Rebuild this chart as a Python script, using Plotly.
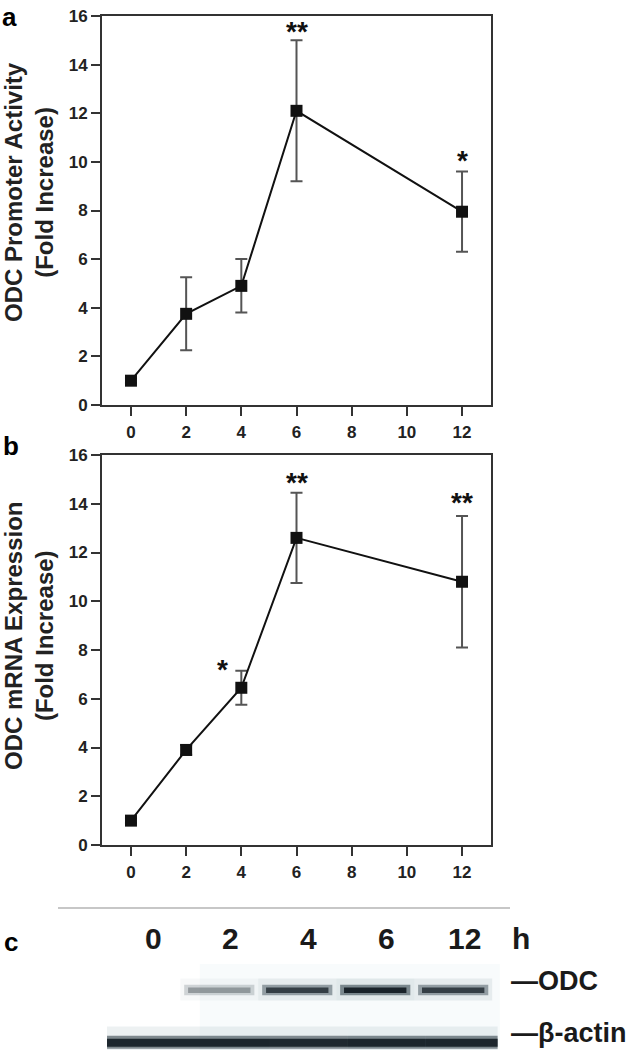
import plotly.graph_objects as go

# ---------------- data ----------------
time_h = [0, 2, 4, 6, 12]

promoter_mean = [1.0, 3.75, 4.9, 12.1, 7.95]
promoter_err = [0.1, 1.5, 1.1, 2.9, 1.65]
promoter_sig = ["", "", "", "**", "*"]
promoter_sig_y = [0, 0, 0, 15.6, 10.3]

mrna_mean = [1.0, 3.9, 6.45, 12.6, 10.8]
mrna_err = [0.1, 0.2, 0.7, 1.85, 2.7]
mrna_sig = ["", "", "*", "**", "**"]
mrna_sig_x = [0, 2, 3.3, 6, 12]
mrna_sig_y = [0, 0, 7.45, 15.1, 14.3]

x_ticks = [0, 2, 4, 6, 8, 10, 12]
y_ticks = [0, 2, 4, 6, 8, 10, 12, 14, 16]

blot_lanes = ["0", "2", "4", "6", "12"]
odc_intensity = [0.0, 0.35, 0.8, 1.0, 0.8]
actin_intensity = [0.9, 0.9, 0.88, 0.9, 0.9]

# ---------------- style ----------------
FONT = "Liberation Sans"
W, H = 638, 1050
PX_L, PX_R = 102, 491


def py(p):
    return 1 - p / H


def pxx(p):
    return p / W


fig = go.Figure()

common_line = dict(color="#111111", width=2)
common_marker = dict(symbol="square", size=12, color="#111111")
err_style = dict(type="data", thickness=2, width=6, color="#555555")

fig.add_trace(go.Scatter(
    x=time_h, y=promoter_mean, mode="lines+markers",
    line=common_line, marker=common_marker,
    error_y=dict(array=promoter_err, **err_style),
    xaxis="x", yaxis="y", showlegend=False))

fig.add_trace(go.Scatter(
    x=time_h, y=mrna_mean, mode="lines+markers",
    line=common_line, marker=common_marker,
    error_y=dict(array=mrna_err, **err_style),
    xaxis="x2", yaxis="y2", showlegend=False))

axis_common = dict(
    showline=True, linecolor="#333333", linewidth=2, mirror=True,
    ticks="outside", ticklen=9, tickwidth=2, tickcolor="#333333",
    showgrid=False, zeroline=False, automargin=False,
    tickfont=dict(family=FONT, size=17, color="#222222", weight="bold"),
)

xr = [-1.05, 13.05]
yr = [0, 16]

fig.update_layout(
    width=W, height=H, autosize=False,
    margin=dict(l=0, r=0, t=0, b=0),
    paper_bgcolor="white", plot_bgcolor="white",
    xaxis=dict(domain=[pxx(PX_L), pxx(PX_R)], range=xr, tickvals=x_ticks,
               anchor="y", ticklabelstandoff=2, **axis_common),
    yaxis=dict(domain=[py(405), py(16)], range=yr, tickvals=y_ticks,
               anchor="x", **axis_common),
    xaxis2=dict(domain=[pxx(PX_L), pxx(PX_R)], range=xr, tickvals=x_ticks,
                anchor="y2", ticklabelstandoff=2, **axis_common),
    yaxis2=dict(domain=[py(845), py(455)], range=yr, tickvals=y_ticks,
                anchor="x2", **axis_common),
    # western blot axes: lane index horizontally, band row vertically
    xaxis3=dict(domain=[pxx(100), pxx(560)], range=[-0.68, 5.22],
                visible=False, anchor="y3"),
    yaxis3=dict(domain=[0, py(900)], range=[-0.154, 2.73],
                visible=False, anchor="x3"),
)

annotations = []
star_font = dict(family=FONT, size=28, color="#111111", weight="bold")
for xv, s, yv in zip(time_h, promoter_sig, promoter_sig_y):
    if s:
        annotations.append(dict(x=xv, y=yv, xref="x", yref="y", text=s,
                                xanchor="center", yanchor="middle",
                                showarrow=False, font=star_font, yshift=-6))
for xv, s, yv in zip(mrna_sig_x, mrna_sig, mrna_sig_y):
    if s:
        annotations.append(dict(x=xv, y=yv, xref="x2", yref="y2", text=s,
                                xanchor="center", yanchor="middle",
                                showarrow=False, font=star_font, yshift=-6))

title_font = dict(family=FONT, size=24, color="#222222", weight="bold")
annotations.append(dict(x=pxx(29), y=py(192), xref="paper", yref="paper",
                        text="ODC Promoter Activity<br>(Fold Increase)",
                        xanchor="center", yanchor="middle",
                        textangle=-90, showarrow=False, font=title_font))
annotations.append(dict(x=pxx(29), y=py(636), xref="paper", yref="paper",
                        text="ODC mRNA Expression<br>(Fold Increase)",
                        xanchor="center", yanchor="middle",
                        textangle=-90, showarrow=False, font=title_font))

panel_font = dict(family=FONT, size=26, color="#000000", weight="bold")
annotations.append(dict(x=pxx(10), y=1.0, xref="paper", yref="paper",
                        xanchor="center", yanchor="top",
                        text="a", showarrow=False, font=panel_font))
for lbl, yp, xp in [("b", 446, 11), ("c", 942, 11)]:
    annotations.append(dict(x=pxx(xp), y=py(yp), xref="paper", yref="paper",
                            xanchor="center", yanchor="middle",
                            text=lbl, showarrow=False, font=panel_font))

lane_font = dict(family=FONT, size=30, color="#1a1a1a", weight="bold")
for i, lbl in enumerate(blot_lanes):
    annotations.append(dict(x=i, y=py(938), xref="x3", yref="paper",
                            xanchor="center", yanchor="middle",
                            text=lbl, showarrow=False, font=lane_font))
annotations.append(dict(x=len(blot_lanes) - 0.28, y=py(938), xref="x3",
                        yref="paper", text="h", xanchor="center",
                        yanchor="middle", showarrow=False, font=lane_font))

band_lbl_font = dict(family=FONT, size=27, color="#1a1a1a", weight="bold")
annotations.append(dict(x=pxx(509), y=1, xref="paper", yref="y3",
                        text="—ODC", xanchor="left", yanchor="middle",
                        showarrow=False, font=band_lbl_font, yshift=9))
annotations.append(dict(x=pxx(509), y=0, xref="paper", yref="y3",
                        text="—β-actin", xanchor="left", yanchor="middle",
                        showarrow=False, font=band_lbl_font, yshift=9))

shapes = []
# separator line above the blot
shapes.append(dict(type="line", xref="paper", yref="paper",
                   x0=pxx(58), x1=pxx(510), y0=py(908), y1=py(908),
                   line=dict(color="#b5b5b5", width=1.5)))
# faint membrane tint
shapes.append(dict(type="rect", xref="x3", yref="y3",
                   x0=0.6, x1=4.45, y0=-0.2, y1=1.5,
                   fillcolor="rgba(205,228,235,0.14)", line=dict(width=0),
                   layer="below"))

BAND_OFF = -0.15
for i, v in enumerate(odc_intensity):
    if v <= 0:
        continue
    c = i + BAND_OFF
    shapes.append(dict(type="rect", xref="x3", yref="y3",
                       x0=c - 0.5, x1=c + 0.5, y0=0.8, y1=1.22,
                       fillcolor=f"rgba(60,95,110,{0.12 * v:.3f})",
                       line=dict(width=0)))
    shapes.append(dict(type="rect", xref="x3", yref="y3",
                       x0=c - 0.45, x1=c + 0.45, y0=0.9, y1=1.1,
                       fillcolor=f"rgba(20,40,50,{0.5 * v:.3f})",
                       line=dict(width=0)))
    shapes.append(dict(type="rect", xref="x3", yref="y3",
                       x0=c - 0.4, x1=c + 0.4, y0=0.94, y1=1.05,
                       fillcolor=f"rgba(8,18,25,{0.85 * v:.3f})",
                       line=dict(width=0)))

n = len(actin_intensity)
for i, v in enumerate(actin_intensity):
    x0 = i - 0.5 if i > 0 else i - 0.59
    x1 = i + 0.5 if i < n - 1 else i + 0.42
    shapes.append(dict(type="rect", xref="x3", yref="y3",
                       x0=x0, x1=x1, y0=-0.2, y1=0.3,
                       fillcolor=f"rgba(60,95,110,{0.1 * v:.3f})",
                       line=dict(width=0)))
    shapes.append(dict(type="rect", xref="x3", yref="y3",
                       x0=x0, x1=x1, y0=-0.13, y1=0.12,
                       fillcolor=f"rgba(15,30,40,{0.55 * v:.3f})",
                       line=dict(width=0)))
    shapes.append(dict(type="rect", xref="x3", yref="y3",
                       x0=x0, x1=x1, y0=-0.09, y1=0.06,
                       fillcolor=f"rgba(5,15,22,{0.9 * v:.3f})",
                       line=dict(width=0)))

fig.update_layout(annotations=annotations, shapes=shapes)

fig.write_html("out.html",
               config={"displayModeBar": False},
               post_script="document.body.style.margin='0';")
